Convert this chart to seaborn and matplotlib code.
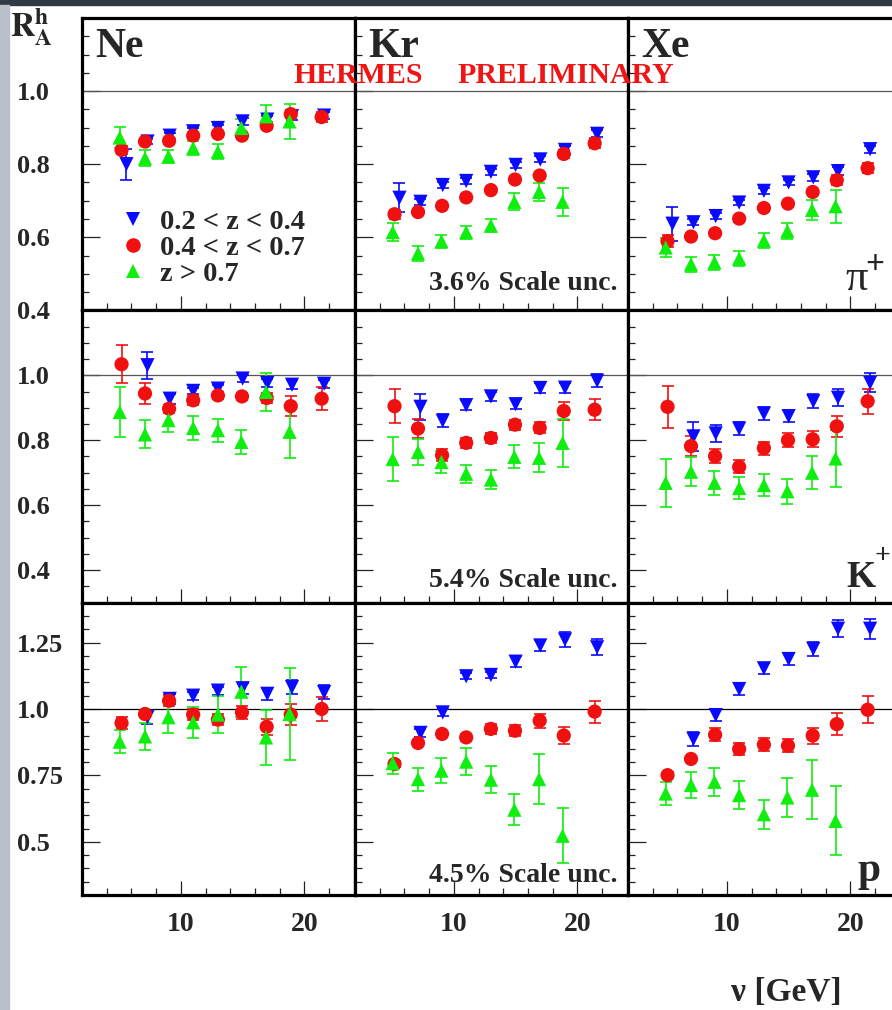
import numpy as np
import pandas as pd
import seaborn as sns
import matplotlib.pyplot as plt
from matplotlib.lines import Line2D
from matplotlib.patches import Rectangle
from matplotlib.ticker import MultipleLocator, FixedLocator, FuncFormatter

nan = np.nan

# nu bin centres (GeV) per z range
nu_lo = [5.6, 7.3, 9.1, 11.0, 13.0, 15.0, 17.0, 19.0, 21.6]
nu_mid = [5.2, 7.1, 9.05, 11.0, 13.0, 14.95, 16.95, 18.9, 21.4]
nu_hi = [5.05, 7.1, 9.0, 11.0, 13.0, 14.9, 16.9, 18.8]

z_labels = ["0.2 < z < 0.4", "0.4 < z < 0.7", "z > 0.7"]
targets = ["Ne", "Kr", "Xe"]
hadrons = ["pi", "k", "p"]

# ---- pi+ ----
pi_ne_lo = [0.80, 0.862, 0.878, 0.89, 0.899, 0.917, 0.922, 0.931, 0.933]
pi_ne_lo_err = [0.042, 0.008, 0.008, 0.008, 0.008, 0.01, 0.01, 0.01, 0.01]
pi_ne_mid = [0.839, 0.862, 0.864, 0.878, 0.883, 0.878, 0.905, 0.937, 0.929]
pi_ne_mid_err = [0.012, 0.008, 0.008, 0.008, 0.008, 0.008, 0.01, 0.012, 0.014]
pi_ne_hi = [0.873, 0.816, 0.821, 0.844, 0.834, 0.899, 0.931, 0.917]
pi_ne_hi_err = [0.03, 0.022, 0.018, 0.02, 0.02, 0.024, 0.03, 0.048]

pi_kr_lo = [0.708, 0.697, 0.743, 0.754, 0.779, 0.798, 0.813, 0.839, 0.883]
pi_kr_lo_err = [0.04, 0.008, 0.008, 0.008, 0.008, 0.008, 0.008, 0.01, 0.01]
pi_kr_mid = [0.663, 0.669, 0.686, 0.709, 0.729, 0.758, 0.769, 0.828, 0.857]
pi_kr_mid_err = [0.012, 0.008, 0.008, 0.008, 0.008, 0.008, 0.008, 0.01, 0.014]
pi_kr_hi = [0.614, 0.556, 0.589, 0.614, 0.632, 0.697, 0.724, 0.697]
pi_kr_hi_err = [0.025, 0.02, 0.018, 0.018, 0.018, 0.023, 0.024, 0.038]

pi_xe_lo = [0.637, 0.641, 0.658, 0.695, 0.727, 0.75, 0.764, 0.781, 0.841]
pi_xe_lo_err = [0.047, 0.008, 0.008, 0.008, 0.008, 0.008, 0.01, 0.01, 0.01]
pi_xe_mid = [0.589, 0.602, 0.611, 0.651, 0.68, 0.692, 0.724, 0.756, 0.789]
pi_xe_mid_err = [0.017, 0.008, 0.008, 0.008, 0.008, 0.008, 0.008, 0.014, 0.014]
pi_xe_hi = [0.572, 0.526, 0.531, 0.542, 0.591, 0.617, 0.675, 0.685]
pi_xe_hi_err = [0.027, 0.02, 0.02, 0.02, 0.021, 0.023, 0.028, 0.045]

# ---- K+ ----
k_ne_lo = [nan, 1.031, 0.928, 0.952, 0.959, 0.99, 0.976, 0.971, 0.974]
k_ne_lo_err = [nan, 0.042, 0.015, 0.01, 0.01, 0.012, 0.012, 0.013, 0.013]
k_ne_mid = [1.034, 0.944, 0.897, 0.923, 0.938, 0.935, 0.93, 0.905, 0.928]
k_ne_mid_err = [0.058, 0.031, 0.012, 0.015, 0.012, 0.012, 0.015, 0.03, 0.035]
k_ne_hi = [0.887, 0.818, 0.862, 0.838, 0.831, 0.795, 0.949, 0.826]
k_ne_hi_err = [0.077, 0.043, 0.037, 0.036, 0.035, 0.037, 0.058, 0.082]

k_kr_lo = [nan, 0.903, 0.86, 0.908, 0.935, 0.911, 0.961, 0.962, 0.983]
k_kr_lo_err = [nan, 0.04, 0.02, 0.015, 0.015, 0.015, 0.015, 0.015, 0.02]
k_kr_mid = [0.905, 0.836, 0.754, 0.792, 0.807, 0.848, 0.838, 0.89, 0.894]
k_kr_mid_err = [0.053, 0.03, 0.019, 0.015, 0.015, 0.015, 0.017, 0.028, 0.033]
k_kr_hi = [0.742, 0.764, 0.733, 0.697, 0.679, 0.749, 0.746, 0.792]
k_kr_hi_err = [0.067, 0.04, 0.033, 0.028, 0.03, 0.035, 0.045, 0.074]

k_xe_lo = [nan, 0.812, 0.821, 0.836, 0.882, 0.874, 0.92, 0.931, 0.977]
k_xe_lo_err = [nan, 0.045, 0.027, 0.02, 0.02, 0.019, 0.022, 0.026, 0.029]
k_xe_mid = [0.903, 0.782, 0.751, 0.718, 0.776, 0.8, 0.803, 0.843, 0.92]
k_xe_mid_err = [0.064, 0.032, 0.022, 0.02, 0.02, 0.022, 0.025, 0.032, 0.039]
k_xe_hi = [0.669, 0.703, 0.669, 0.653, 0.662, 0.643, 0.7, 0.744]
k_xe_hi_err = [0.074, 0.045, 0.036, 0.034, 0.035, 0.038, 0.051, 0.088]

# ---- protons ----
p_ne_lo = [nan, 0.969, 1.038, 1.05, 1.069, 1.078, 1.057, 1.082, 1.063]
p_ne_lo_err = [nan, 0.025, 0.02, 0.015, 0.015, 0.02, 0.022, 0.026, 0.026]
p_ne_mid = [0.947, 0.981, 1.031, 0.979, 0.96, 0.987, 0.933, 0.979, 1.0]
p_ne_mid_err = [0.022, 0.012, 0.02, 0.02, 0.021, 0.026, 0.031, 0.038, 0.044]
p_ne_hi = [0.877, 0.897, 0.969, 0.95, 0.979, 1.065, 0.893, 0.981]
p_ne_hi_err = [0.044, 0.051, 0.058, 0.058, 0.069, 0.094, 0.105, 0.172]

p_kr_lo = [nan, 0.91, 0.987, 1.123, 1.128, 1.178, 1.239, 1.261, 1.232]
p_kr_lo_err = [nan, 0.015, 0.012, 0.012, 0.012, 0.02, 0.022, 0.028, 0.03]
p_kr_mid = [0.793, 0.872, 0.906, 0.893, 0.925, 0.918, 0.956, 0.9, 0.99]
p_kr_mid_err = [0.012, 0.012, 0.012, 0.012, 0.019, 0.02, 0.026, 0.031, 0.041]
p_kr_hi = [0.796, 0.736, 0.768, 0.802, 0.734, 0.621, 0.736, 0.523]
p_kr_hi_err = [0.039, 0.043, 0.047, 0.05, 0.052, 0.058, 0.093, 0.104]

p_xe_lo = [nan, 0.887, 0.977, 1.075, 1.153, 1.188, 1.226, 1.302, 1.302]
p_xe_lo_err = [nan, 0.025, 0.024, 0.023, 0.021, 0.023, 0.026, 0.032, 0.038]
p_xe_mid = [0.751, 0.812, 0.903, 0.849, 0.866, 0.862, 0.9, 0.943, 0.997]
p_xe_mid_err = [0.012, 0.012, 0.025, 0.023, 0.025, 0.024, 0.03, 0.04, 0.05]
p_xe_hi = [0.682, 0.714, 0.726, 0.676, 0.604, 0.667, 0.696, 0.579]
p_xe_hi_err = [0.042, 0.049, 0.052, 0.052, 0.054, 0.072, 0.111, 0.13]

scale_unc = ["3.6% Scale unc.", "5.4% Scale unc.", "4.5% Scale unc."]

# build long table
g = globals()
rows = []
for h in hadrons:
    for t in targets:
        for zl, key, nus in zip(z_labels, ["lo", "mid", "hi"], [nu_lo, nu_mid, nu_hi]):
            vals = g[f"{h}_{t.lower()}_{key}"]
            errs = g[f"{h}_{t.lower()}_{key}_err"]
            for nu, v, e in zip(nus, vals, errs):
                if not np.isnan(v):
                    rows.append((h, t, zl, nu, v, e))
df = pd.DataFrame(rows, columns=["hadron", "target", "z", "nu", "R", "err"])

sns.set_style("white")
plt.rcParams["font.family"] = ["Liberation Serif", "DejaVu Serif"]
plt.rcParams["font.weight"] = "bold"
plt.rcParams["mathtext.fontset"] = "stix"

colors = {"0.2 < z < 0.4": "#0a0aff", "0.4 < z < 0.7": "#f01010", "z > 0.7": "#10ee10"}
markers = {"0.2 < z < 0.4": "v", "0.4 < z < 0.7": "o", "z > 0.7": "^"}

fig, axes = plt.subplots(3, 3, figsize=(8.92, 10.10), dpi=100, sharex=True)
fig.subplots_adjust(left=82/892, right=901/892, top=1-18/1010, bottom=1-895/1010,
                    wspace=0, hspace=0)

ylims = [(0.4, 1.2), (0.3, 1.2), (0.3, 1.4)]
yticks = [[0.4, 0.6, 0.8, 1.0], [0.4, 0.6, 0.8, 1.0], [0.5, 0.75, 1.0, 1.25]]


def fmt(v, pos):
    s = f"{v:.2f}"
    return s[:-1] if s.endswith("0") else s


for i, h in enumerate(hadrons):
    for j, t in enumerate(targets):
        ax = axes[i, j]
        sub = df[(df.hadron == h) & (df.target == t)]
        ax.axhline(1.0, color="black" if i == 2 else "#555555", lw=0.9, zorder=1)
        for zl in z_labels:
            s = sub[sub.z == zl]
            ax.errorbar(s.nu, s.R, yerr=s.err, fmt="none", ecolor=colors[zl],
                        elinewidth=1.2, capsize=4.2, capthick=1.2, zorder=2)
        sns.scatterplot(data=sub, x="nu", y="R", hue="z", style="z",
                        hue_order=z_labels, style_order=z_labels,
                        palette=colors, markers=markers, s=105, linewidth=0,
                        legend=False, ax=ax, zorder=3)
        ax.set_xlabel("")
        ax.set_ylabel("")
        ax.set_xlim(2.0, 24.1)
        ax.set_ylim(*ylims[i])
        ax.yaxis.set_major_locator(FixedLocator(yticks[i]))
        ax.yaxis.set_minor_locator(MultipleLocator(0.05))
        ax.yaxis.set_major_formatter(FuncFormatter(fmt))
        ax.xaxis.set_major_locator(FixedLocator([10, 20]))
        ax.xaxis.set_minor_locator(FixedLocator([4, 6, 8, 12, 14, 16, 18, 22]))
        ax.tick_params(which="both", direction="in", top=False, right=False,
                       left=True, bottom=True, color="#222222", width=0.9)
        ax.tick_params(axis="y", which="major", length=13, labelsize=19, pad=47)
        ax.tick_params(axis="y", which="minor", length=5)
        ax.tick_params(axis="x", which="major", length=10, labelsize=20, pad=12)
        ax.tick_params(axis="x", which="minor", length=5)
        if j > 0:
            ax.tick_params(labelleft=False)
        else:
            for lbl in ax.get_yticklabels():
                lbl.set_horizontalalignment("left")
        for sp in ax.spines.values():
            sp.set_visible(True)
            sp.set_linewidth(2.3)
            sp.set_color("black")
        if i == 0:
            ax.text(0.05, 0.868, t, transform=ax.transAxes, fontsize=30,
                    ha="left", va="baseline")
        if j == 1:
            ax.text(0.96, [0.068, 0.055, 0.045][i], scale_unc[i], transform=ax.transAxes,
                    fontsize=20, ha="right", va="baseline")

# particle labels
axes[0, 2].text(0.879, 0.068, "π", transform=axes[0, 2].transAxes, fontsize=32,
                fontweight="normal", ha="right", va="baseline")
axes[0, 2].text(0.905, 0.156, "+", transform=axes[0, 2].transAxes, fontsize=24,
                ha="center", va="center")
axes[1, 2].text(0.799, 0.055, "K", transform=axes[1, 2].transAxes, fontsize=27,
                ha="left", va="baseline")
axes[1, 2].text(0.932, 0.158, "+", transform=axes[1, 2].transAxes, fontsize=20,
                ha="center", va="center")
axes[2, 2].text(0.927, 0.048, "p", transform=axes[2, 2].transAxes, fontsize=30,
                ha="right", va="baseline")

# legend
handles = [Line2D([], [], ls="none", marker=markers[zl], color=colors[zl],
                  markersize=10.5, markeredgewidth=0) for zl in z_labels]
axes[0, 0].legend(handles, z_labels, loc="upper left", bbox_to_anchor=(0.133, 0.345),
                  frameon=False, borderaxespad=0, borderpad=0, handlelength=1.0,
                  handletextpad=0.46, labelspacing=0.0,
                  prop={"family": "Liberation Serif", "weight": "bold", "size": 20.5})

fig.text(293/892, 1-83/1010, "HERMES", color="#f01515", fontsize=21.5,
         ha="left", va="baseline")
fig.text(457/892, 1-83/1010, "PRELIMINARY", color="#f01515", fontsize=21.5,
         ha="left", va="baseline")

fig.text(10/892, 1-37/1010, r"$\mathbf{R}^{\mathbf{h}}_{\mathbf{A}}$", fontsize=24,
         ha="left", va="baseline")
fig.text(786/892, 1-1001/1010, "ν [GeV]", fontsize=24, ha="center", va="baseline")

# screenshot frame
fig.patches.append(Rectangle((0, 1-5/1010), 1, 5/1010, transform=fig.transFigure,
                             color="#2f3a45", zorder=0))
fig.patches.append(Rectangle((0, 0), 9/892, 1-5/1010, transform=fig.transFigure,
                             color="#b9c0ca", zorder=0))

fig.savefig("out.png", dpi=100)
